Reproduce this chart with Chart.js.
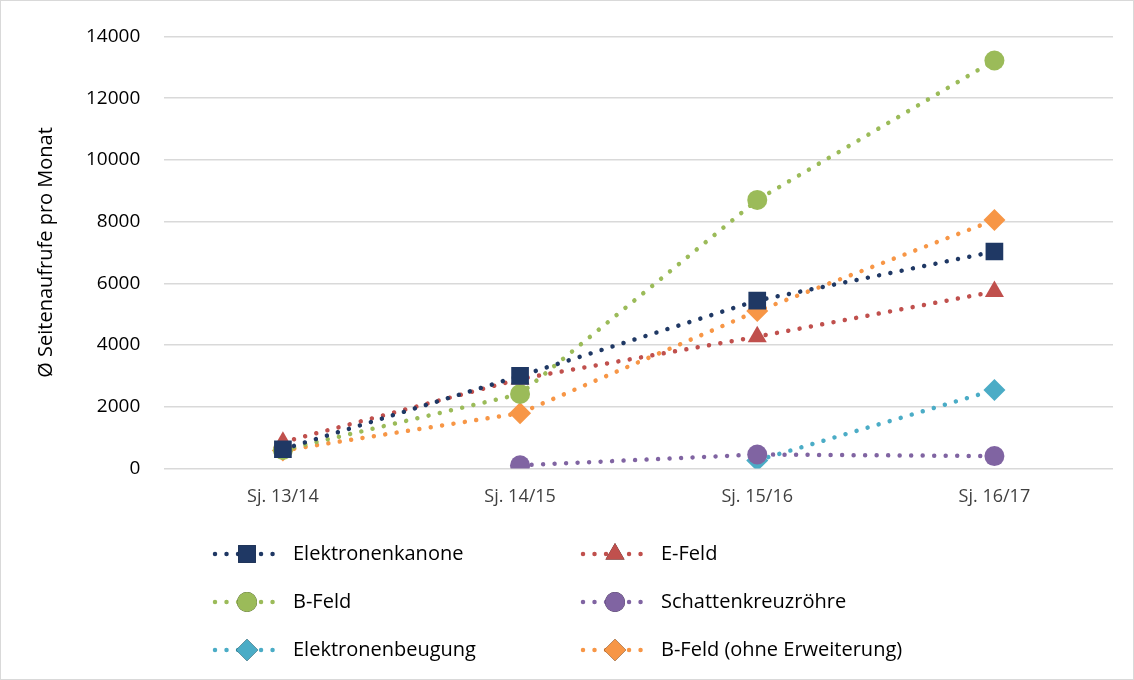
<!DOCTYPE html>
<html>
<head>
<meta charset="utf-8">
<script src="https://cdn.jsdelivr.net/npm/chart.js@4"></script>
<style>
    html, body { margin: 0; padding: 0; background: #fff; }
    #wrap { position: relative; width: 1132px; height: 678px; border: 1px solid #d9d9d9; }
</style>
</head>
<body>
<div id="wrap"><canvas id="chart"></canvas></div>
<script>
// Daten
const categories = ['Sj. 13/14', 'Sj. 14/15', 'Sj. 15/16', 'Sj. 16/17'];
const yTicks = [0, 2000, 4000, 6000, 8000, 10000, 12000, 14000];

const seriesNames = ['Elektronenkanone', 'E-Feld', 'B-Feld', 'Schattenkreuzröhre', 'Elektronenbeugung', 'B-Feld (ohne Erweiterung)'];
const elektronenkanone = [620, 3000, 5440, 7030];
const eFeld = [850, 2900, 4270, 5730];
const bFeld = [600, 2410, 8700, 13220];
const schattenkreuzroehre = [null, 100, 450, 400];
const elektronenbeugung = [null, null, 260, 2540];
const bFeldOhne = [580, 1790, 5100, 8050];

const colors = ['#1f3864', '#c0504d', '#9bbb59', '#8064a2', '#4bacc6', '#f79646'];
const markers = ['rect', 'triangle', 'circle', 'circle', 'rectRot', 'rectRot'];
const markerSize = [12.5, 11, 10, 10, 11, 11];
const values = [elektronenkanone, eFeld, bFeld, schattenkreuzroehre, elektronenbeugung, bFeldOhne];

const FONT = '"Open Sans", "Noto Sans", sans-serif';

const datasets = values.map((data, i) => ({
    label: seriesNames[i],
    data: data,
    borderColor: colors[i],
    backgroundColor: colors[i],
    borderWidth: 4.5,
    borderDash: [0.01, 11.5],
    borderCapStyle: 'round',
    pointStyle: markers[i],
    pointRadius: markerSize[i],
    pointHoverRadius: markerSize[i],
    pointBorderWidth: 0,
    tension: 0,
    spanGaps: false
}));

// Legende in zwei Spalten unterhalb der Grafik
const legendPlugin = {
    id: 'gridLegend',
    afterDraw(chart) {
        const ctx = chart.ctx;
        const colX = [212, 580];
        const rowY = [553, 601, 649];
        chart.data.datasets.forEach((ds, i) => {
            const x = colX[i % 2];
            const y = rowY[Math.floor(i / 2)];
            ctx.save();
            ctx.strokeStyle = ds.borderColor;
            ctx.lineWidth = 4.5;
            ctx.lineCap = 'round';
            ctx.setLineDash([0.01, 11.5]);
            ctx.beginPath();
            ctx.moveTo(x + 2, y);
            ctx.lineTo(x + 66, y);
            ctx.stroke();
            ctx.setLineDash([]);
            Chart.helpers.drawPoint(ctx, {
                pointStyle: ds.pointStyle,
                radius: ds.pointRadius,
                rotation: 0,
                borderWidth: 0
            }, x + 34, y);
            ctx.fillStyle = ds.backgroundColor;
            ctx.fill();
            ctx.fillStyle = '#000';
            ctx.font = '20px ' + FONT;
            ctx.textBaseline = 'middle';
            ctx.fillText(ds.label, x + 80, y);
            ctx.restore();
        });
    }
};

const ctx = document.getElementById('chart').getContext('2d');
new Chart(ctx, {
    type: 'line',
    data: { labels: categories, datasets: datasets },
    options: {
        responsive: true,
        maintainAspectRatio: false,
        animation: false,
        layout: { padding: { top: 31, right: 20, bottom: 153, left: 29 } },
        plugins: {
            legend: { display: false },
            tooltip: { enabled: false }
        },
        scales: {
            x: {
                offset: true,
                grid: { display: false, drawTicks: false },
                border: { display: false },
                ticks: { color: '#404040', font: { size: 18, family: FONT }, padding: 18 }
            },
            y: {
                min: 0,
                max: 14000,
                afterBuildTicks(axis) { axis.ticks = yTicks.map(v => ({ value: v })); },
                grid: { color: '#d9d9d9', lineWidth: 1.5, drawTicks: false },
                border: { display: false },
                ticks: { color: '#000', font: { size: 19, family: FONT }, padding: 24, callback: v => String(v) },
                title: {
                    display: true,
                    text: 'Ø Seitenaufrufe pro Monat',
                    color: '#000',
                    font: { size: 20, family: FONT },
                    padding: { top: 4, bottom: 4 }
                }
            }
        }
    },
    plugins: [legendPlugin]
});
</script>
</body>
</html>
